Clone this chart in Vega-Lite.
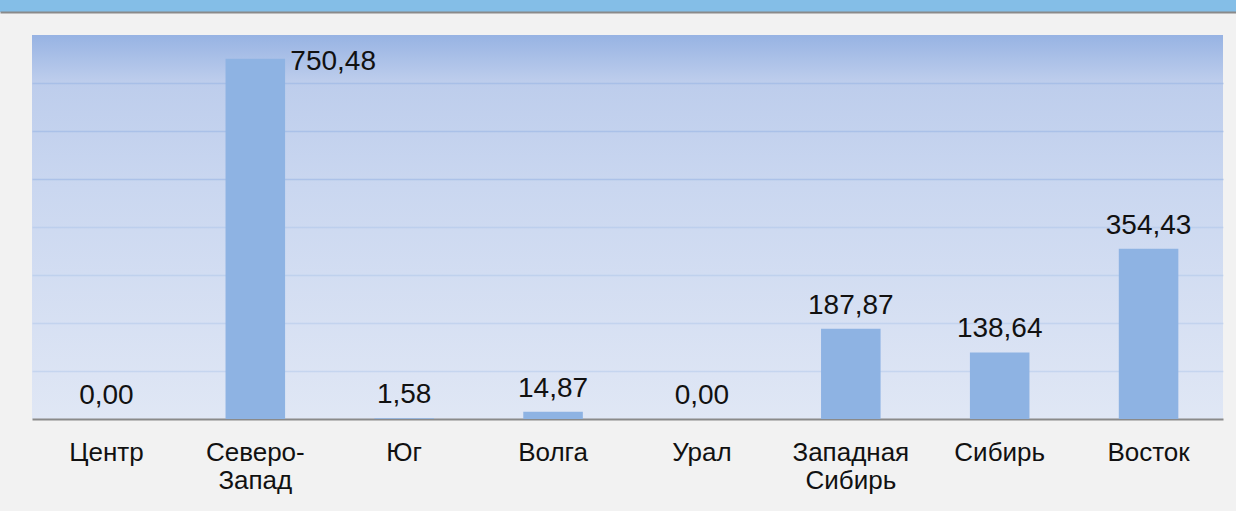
{
  "$schema": "https://vega.github.io/schema/vega-lite/v6.json",
  "background": "#f2f2f2",
  "padding": 0,
  "spacing": 0,
  "config": {
    "font": "Liberation Sans",
    "view": {"stroke": null},
    "concat": {"spacing": 0},
    "locale": {"number": {"decimal": ",", "thousands": " ", "grouping": [3], "currency": ["", ""]}}
  },
  "vconcat": [
    {
      "width": 1236,
      "height": 12,
      "view": {"fill": "#84bee7", "stroke": null},
      "data": {"values": [{"v": 0.5}]},
      "mark": {"type": "point", "opacity": 0},
      "encoding": {
        "x": {
          "field": "v", "type": "quantitative",
          "scale": {"domain": [0, 1], "nice": false, "zero": false},
          "axis": {"orient": "bottom", "labels": false, "ticks": false, "grid": false, "domainColor": "#8a8a8a", "domainWidth": 2, "title": " ", "titleFontSize": 10, "titlePadding": 13}
        }
      }
    },
    {
      "hconcat": [
        {
          "width": 32,
          "height": 384,
          "data": {"values": []},
          "mark": "rect",
          "encoding": {}
        },
        {
          "width": 1191,
          "height": 384,
          "view": {
            "fill": {
              "gradient": "linear", "x1": 0, "y1": 0, "x2": 0, "y2": 1,
              "stops": [
                {"offset": 0, "color": "#97b3e3"},
                {"offset": 0.12, "color": "#bdcdec"},
                {"offset": 0.4, "color": "#cad7f0"},
                {"offset": 1, "color": "#e0e7f5"}
              ]
            },
            "stroke": null
          },
          "data": {
            "values": [
              {"region": "Центр", "value": 0.0},
              {"region": "Северо-Запад", "value": 750.48},
              {"region": "Юг", "value": 1.58},
              {"region": "Волга", "value": 14.87},
              {"region": "Урал", "value": 0.0},
              {"region": "Западная Сибирь", "value": 187.87},
              {"region": "Сибирь", "value": 138.64},
              {"region": "Восток", "value": 354.43}
            ]
          },
          "encoding": {
            "x": {
              "field": "region", "type": "nominal", "sort": null,
              "scale": {"paddingInner": 0.6, "paddingOuter": 0.3},
              "axis": {
                "title": null, "labelAngle": 0, "ticks": false,
                "domainColor": "#8a8a8a", "domainWidth": 2,
                "labelFontSize": 26, "labelColor": "#111111", "labelPadding": 20,
                "labelLineHeight": 28, "labelBaseline": "top",
                "labelExpr": "datum.value == 'Северо-Запад' ? ['Северо-', 'Запад'] : datum.value == 'Западная Сибирь' ? ['Западная', 'Сибирь'] : datum.value"
              }
            },
            "y": {
              "field": "value", "type": "quantitative",
              "scale": {"domain": [0, 800], "nice": false},
              "axis": {
                "title": null, "labels": false, "ticks": false, "domain": false,
                "values": [100, 200, 300, 400, 500, 600, 700],
                "gridColor": "#9fb9e6", "gridWidth": 1.5,
                "gridOpacity": {"condition": {"test": "datum.value >= 500", "value": 0.7}, "value": 0.35}
              }
            }
          },
          "layer": [
            {"mark": {"type": "bar", "color": "#8eb3e3"}},
            {
              "transform": [{"filter": "datum.value < 700"}],
              "mark": {"type": "text", "baseline": "alphabetic", "dy": -15, "fontSize": 28, "color": "#111111"},
              "encoding": {"text": {"field": "value", "type": "quantitative", "format": ".2f"}}
            },
            {
              "transform": [{"filter": "datum.value >= 700"}],
              "mark": {"type": "text", "baseline": "alphabetic", "align": "left", "dx": 35, "dy": 11, "fontSize": 28, "color": "#111111"},
              "encoding": {"text": {"field": "value", "type": "quantitative", "format": ".2f"}}
            }
          ]
        }
      ]
    },
    {
      "width": 1236,
      "height": 19,
      "data": {"values": [{"v": 0.5}]},
      "mark": {"type": "point", "opacity": 0},
      "encoding": {
        "x": {
          "field": "v", "type": "quantitative",
          "scale": {"domain": [0, 1], "nice": false, "zero": false},
          "axis": {"orient": "bottom", "labels": false, "ticks": false, "grid": false, "domainColor": "#8a8a8a", "domainWidth": 2, "title": null}
        }
      }
    }
  ]
}
